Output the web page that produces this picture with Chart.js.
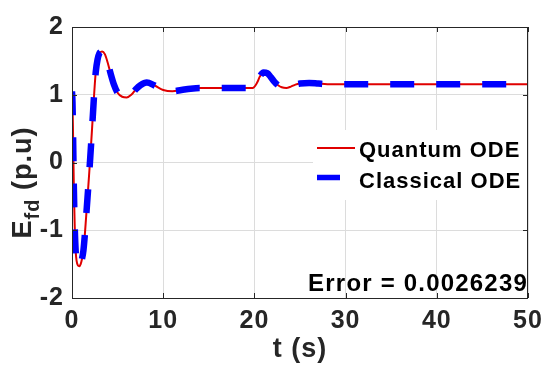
<!DOCTYPE html>
<html>
<head>
<meta charset="utf-8">
<script src="https://cdn.jsdelivr.net/npm/chart.js@4/dist/chart.umd.min.js"></script>
<style>
  html, body { margin: 0; padding: 0; background: #fff; }
  #wrap { width: 560px; height: 366px; position: relative; }
</style>
</head>
<body>
<div id="wrap"><canvas id="c" width="560" height="366"></canvas></div>
<script>
// ---- data ----
const times = [0, 0.05, 0.1, 0.15, 0.2, 0.3, 0.4, 0.5, 0.65, 0.8, 0.95, 1.1, 1.25, 1.4, 1.55, 1.7, 1.85, 2.0, 2.2, 2.4, 2.6, 2.8, 3.0, 3.3, 3.6, 3.9, 4.2, 4.6, 5.0, 5.5, 6.0, 6.5, 7.0, 7.5, 8.2, 9.0, 10, 11, 12, 13, 14, 16, 18, 19.8, 20.3, 20.6, 21.0, 21.4, 21.8, 22.2, 22.6, 23.0, 23.5, 24.0, 24.5, 25.0, 26, 27, 28, 30, 35, 40, 45, 50];
const quantumODE = [1.05, 0.9, 0.55, 0.1, -0.35, -0.95, -1.3, -1.45, -1.52, -1.53, -1.5, -1.42, -1.3, -1.08, -0.8, -0.52, -0.23, 0.07, 0.5, 0.95, 1.33, 1.52, 1.61, 1.64, 1.6, 1.48, 1.33, 1.15, 1.03, 0.97, 0.96, 1.0, 1.08, 1.14, 1.18, 1.14, 1.07, 1.05, 1.07, 1.09, 1.10, 1.10, 1.10, 1.10, 1.18, 1.27, 1.33, 1.32, 1.26, 1.19, 1.14, 1.11, 1.10, 1.12, 1.15, 1.165, 1.175, 1.165, 1.155, 1.155, 1.155, 1.155, 1.155, 1.155];
const classicalODE = [1.05, 0.9, 0.55, 0.1, -0.35, -0.95, -1.3, -1.45, -1.52, -1.53, -1.5, -1.42, -1.3, -1.08, -0.8, -0.52, -0.23, 0.07, 0.5, 0.95, 1.33, 1.52, 1.61, 1.64, 1.6, 1.48, 1.33, 1.15, 1.03, 0.97, 0.96, 1.0, 1.08, 1.14, 1.18, 1.14, 1.07, 1.05, 1.07, 1.09, 1.10, 1.10, 1.10, 1.10, 1.18, 1.27, 1.33, 1.32, 1.26, 1.19, 1.14, 1.11, 1.10, 1.12, 1.15, 1.165, 1.175, 1.165, 1.155, 1.155, 1.155, 1.155, 1.155, 1.155];
const xTicks = [0, 10, 20, 30, 40, 50];
const yTicks = [-2, -1, 0, 1, 2];
const seriesNames = ['Quantum ODE', 'Classical ODE'];
const errorText = 'Error = 0.0026239';
const xTitle = 't (s)';
const yTitleMain = 'E', yTitleSub = 'fd', yTitleRest = ' (p.u)';

const FONT = '"Liberation Sans", Arial, Helvetica, sans-serif';
const RED = '#e00000', BLUE = '#0000ff';

const toXY = (ys) => times.map((t, i) => ({ x: t, y: ys[i] }));

const decorPlugin = {
  id: 'decor',
  beforeDraw(chart) { chart.ctx.letterSpacing = '1px'; },
  afterDraw(chart) {
    const ctx = chart.ctx, a = chart.chartArea;
    const xs = chart.scales.x, ys = chart.scales.y;
    ctx.save();
    // axes box
    ctx.strokeStyle = '#262626';
    ctx.lineWidth = 1;
    ctx.strokeRect(Math.round(a.left) + 0.5, Math.round(a.top) + 0.5, Math.round(a.right - a.left) - 1, Math.round(a.bottom - a.top));
    // inward ticks
    const tl = 5;
    ctx.beginPath();
    xTicks.forEach(v => {
      const px = Math.round(xs.getPixelForValue(v)) + 0.5;
      ctx.moveTo(px, a.bottom); ctx.lineTo(px, a.bottom - tl);
      ctx.moveTo(px, a.top); ctx.lineTo(px, a.top + tl);
    });
    yTicks.forEach(v => {
      const py = Math.round(ys.getPixelForValue(v)) + 0.5;
      ctx.moveTo(a.left, py); ctx.lineTo(a.left + tl, py);
      ctx.moveTo(a.right, py); ctx.lineTo(a.right - tl, py);
    });
    ctx.stroke();

    // legend
    const lx = 313, ly0 = 130;
    const lw = a.right - lx - 1, lh = 70;
    ctx.fillStyle = '#fff';
    ctx.fillRect(lx, ly0, lw, lh);
    ctx.lineCap = 'butt';
    ctx.strokeStyle = RED; ctx.lineWidth = 2;
    ctx.beginPath(); ctx.moveTo(317, 148); ctx.lineTo(355, 148); ctx.stroke();
    ctx.strokeStyle = BLUE; ctx.lineWidth = 5.5;
    ctx.beginPath(); ctx.moveTo(317, 177.5); ctx.lineTo(340, 177.5); ctx.stroke();
    ctx.fillStyle = '#000';
    ctx.font = 'bold 22px ' + FONT;
    ctx.letterSpacing = '1px';
    ctx.textBaseline = 'alphabetic';
    ctx.textAlign = 'left';
    ctx.fillText(seriesNames[0], 359, 156.7);
    ctx.fillText(seriesNames[1], 359, 188.3);

    // error text
    ctx.font = 'bold 24px ' + FONT;
    ctx.letterSpacing = '1.2px';
    ctx.textAlign = 'right';
    ctx.fillText(errorText, a.right + 0, 290.7);

    // y title with subscript
    ctx.fillStyle = '#262626';
    ctx.letterSpacing = '1px';
    ctx.translate(31, (a.top + a.bottom) / 2 + 20);
    ctx.rotate(-Math.PI / 2);
    ctx.textAlign = 'left';
    const fMain = 'bold 27px ' + FONT, fSub = 'bold 20px ' + FONT;
    ctx.font = fMain; const w1 = ctx.measureText(yTitleMain).width;
    ctx.font = fSub; const w2 = ctx.measureText(yTitleSub).width;
    ctx.font = fMain; const w3 = ctx.measureText(yTitleRest).width;
    let x0 = -(w1 + w2 + w3) / 2;
    ctx.font = fMain; ctx.fillText(yTitleMain, x0, 0);
    ctx.font = fSub; ctx.fillText(yTitleSub, x0 + w1, 8);
    ctx.font = fMain; ctx.fillText(yTitleRest, x0 + w1 + w2, 0);
    ctx.restore();
  }
};

new Chart(document.getElementById('c'), {
  type: 'line',
  data: {
    datasets: [
      {
        label: seriesNames[0], data: toXY(quantumODE), borderColor: RED, borderWidth: 2,
        pointRadius: 0, cubicInterpolationMode: 'monotone', order: 1
      },
      {
        label: seriesNames[1], data: toXY(classicalODE), borderColor: BLUE, borderWidth: 6.5,
        borderDash: [24, 22], borderCapStyle: 'butt', borderJoinStyle: 'round',
        pointRadius: 0, cubicInterpolationMode: 'monotone', order: 0
      }
    ]
  },
  options: {
    responsive: false, animation: false, events: [],
    layout: { padding: { left: 0, top: 27, right: 32, bottom: 0 } },
    plugins: { legend: { display: false }, tooltip: { enabled: false } },
    scales: {
      x: {
        type: 'linear', min: 0, max: 50,
        afterBuildTicks: s => { s.ticks = xTicks.map(v => ({ value: v })); },
        afterFit: s => { s.height = 68; },
        grid: { color: '#dcdcdc', lineWidth: 1, drawTicks: false },
        border: { display: false },
        ticks: { color: '#262626', font: { family: FONT, size: 25, weight: 'bold' }, padding: 8, maxRotation: 0 },
        title: { display: true, text: xTitle, color: '#262626', font: { family: FONT, size: 27, weight: 'bold' }, padding: { top: 0, bottom: 0 } }
      },
      y: {
        type: 'linear', min: -2, max: 2,
        afterBuildTicks: s => { s.ticks = yTicks.map(v => ({ value: v })); },
        afterFit: s => { s.width = 72; },
        grid: { color: '#dcdcdc', lineWidth: 1, drawTicks: false },
        border: { display: false },
        ticks: { color: '#262626', font: { family: FONT, size: 25, weight: 'bold' }, padding: 8 }
      }
    }
  },
  plugins: [decorPlugin]
});
</script>
</body>
</html>
